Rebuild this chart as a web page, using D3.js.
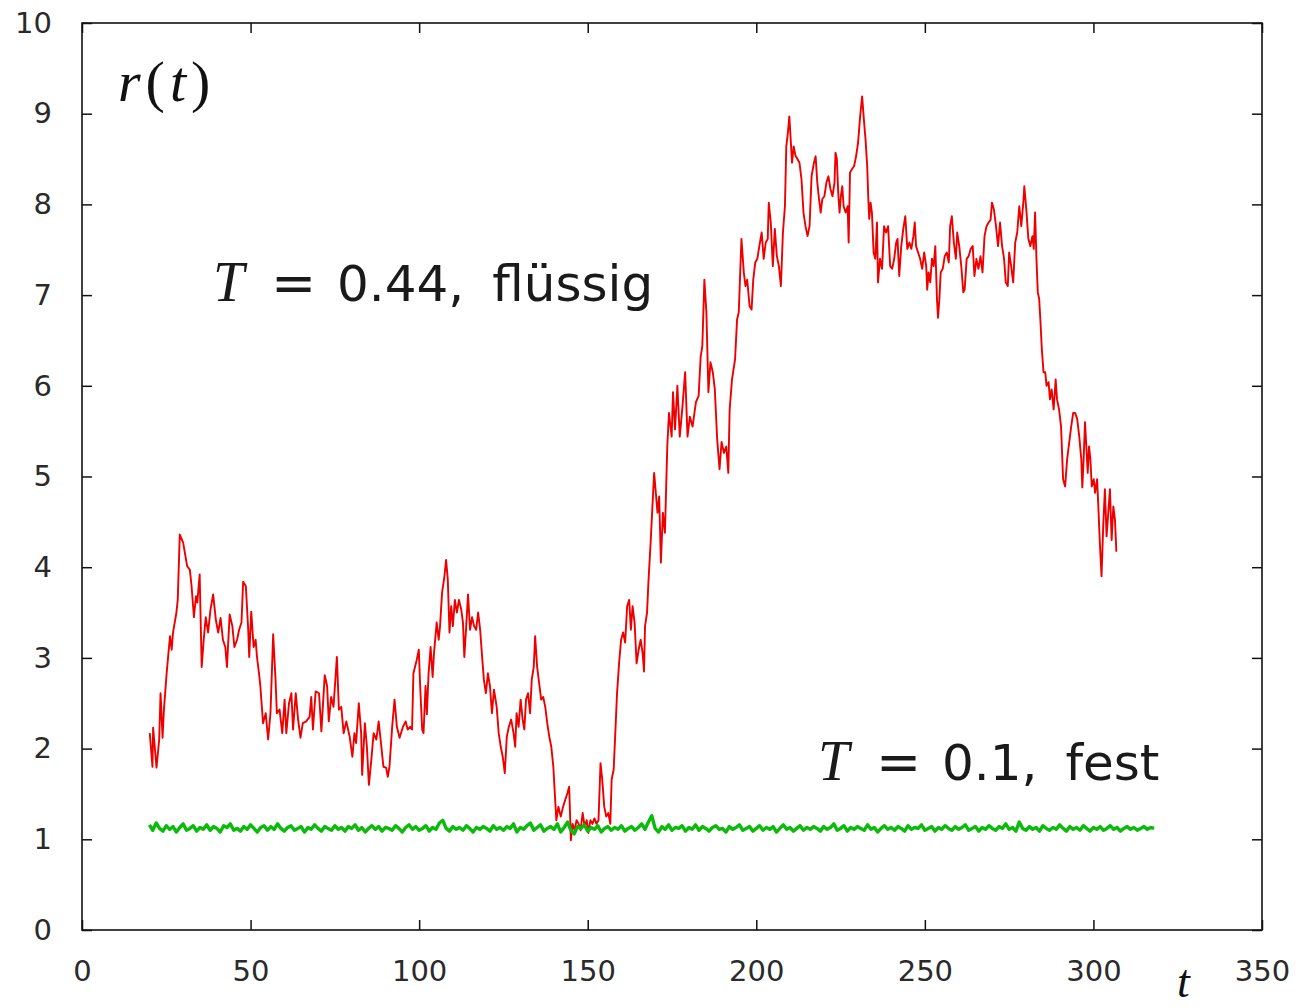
<!DOCTYPE html>
<html>
<head>
<meta charset="utf-8">
<script src="https://cdn.jsdelivr.net/npm/d3@7"></script>
<style>
  body { margin: 0; background: #fff; }
  .tick text { font-family: "DejaVu Sans", sans-serif; font-size: 29px; fill: #2a2a2a; }
</style>
</head>
<body>
<svg id="chart" width="1300" height="1008"></svg>
<script>
// ============= Data =============
const xTicks = [0, 50, 100, 150, 200, 250, 300, 350];
const yTicks = [0, 1, 2, 3, 4, 5, 6, 7, 8, 9, 10];

// r(t) at T = 0.44 (liquid) as [t, r]
const redPoints = [
  [20.1,2.17],[20.9,1.80],[21.1,2.23],[22.1,1.79],[22.9,2.10],[23.3,2.61],[23.9,2.12],[24.3,2.43],
  [25.1,2.83],[26.1,3.24],[26.6,3.09],[27.0,3.28],[28.0,3.50],[28.4,3.64],[29.0,4.36],[30.0,4.27],
  [30.5,4.16],[31.2,4.01],[32.0,3.97],[32.5,3.79],[33.2,3.45],[33.8,3.68],[34.2,3.61],[34.9,3.92],
  [35.5,2.90],[36.1,3.20],[36.7,3.45],[37.4,3.28],[38.1,3.53],[38.9,3.70],[39.7,3.42],[40.4,3.28],
  [41.1,3.44],[41.8,3.20],[42.5,3.12],[43.0,2.90],[43.8,3.48],[44.6,3.35],[45.2,3.12],[46.0,3.20],
  [46.6,3.31],[47.3,3.39],[47.8,3.84],[48.6,3.79],[49.3,3.31],[49.6,3.01],[50.2,3.51],[50.9,3.12],
  [51.5,3.20],[51.9,3.01],[52.5,2.83],[52.9,2.69],[53.7,2.28],[54.5,2.39],[55.2,2.10],[55.9,2.39],
  [56.7,3.26],[57.4,2.76],[57.8,2.39],[58.6,2.43],[59.4,2.17],[60.1,2.54],[60.6,2.17],[61.4,2.50],
  [62.1,2.61],[62.6,2.21],[63.4,2.61],[64.1,2.32],[64.8,2.12],[65.5,2.28],[66.5,2.30],[67.5,2.35],
  [68.0,2.57],[68.5,2.21],[69.3,2.63],[70.3,2.61],[71.0,2.19],[72.0,2.81],[72.7,2.69],[73.2,2.30],
  [73.9,2.57],[74.6,2.46],[75.6,3.01],[76.2,2.43],[76.9,2.46],[77.6,2.17],[78.4,2.30],[79.4,2.13],
  [80.2,1.91],[80.8,2.17],[81.3,2.06],[82.1,2.50],[82.8,2.17],[83.1,1.71],[83.9,2.28],[84.5,2.02],
  [85.1,1.60],[85.8,1.87],[86.5,2.17],[87.3,2.10],[88.0,2.30],[88.8,2.02],[89.4,1.80],[90.2,1.79],
  [90.7,1.69],[91.2,1.80],[92.0,2.24],[92.7,2.54],[93.4,2.24],[94.2,2.12],[95.2,2.24],[96.0,2.30],
  [96.6,2.21],[97.3,2.24],[97.9,2.21],[98.3,2.83],[99.3,2.98],[99.9,3.09],[100.3,2.69],[100.9,2.21],
  [101.3,2.17],[101.9,2.69],[102.3,2.38],[102.8,2.83],[103.4,3.12],[104.0,2.79],[104.4,3.05],[105.2,3.39],
  [105.8,3.20],[106.2,3.35],[106.8,3.72],[107.5,3.90],[108.0,4.08],[108.5,3.86],[109.0,3.28],[109.5,3.57],
  [110.0,3.35],[110.6,3.64],[111.2,3.50],[111.8,3.64],[112.5,3.53],[113.0,3.39],[113.4,3.01],[113.9,3.31],
  [114.5,3.70],[115.1,3.31],[115.7,3.45],[116.3,3.35],[116.9,3.31],[117.5,3.50],[118.1,3.31],[118.6,3.05],
  [119.2,2.76],[119.8,2.61],[120.4,2.83],[121.0,2.69],[121.6,2.39],[122.2,2.65],[123.0,2.46],[123.6,2.17],
  [124.2,2.02],[124.8,1.91],[125.4,1.73],[126.0,2.13],[126.6,2.24],[127.3,2.32],[128.0,2.17],[128.5,2.02],
  [128.9,2.39],[129.5,2.24],[130.1,2.54],[130.7,2.32],[131.2,2.21],[131.7,2.54],[132.3,2.61],[132.9,2.39],
  [133.4,2.76],[134.0,2.90],[134.4,3.24],[135.0,2.90],[135.6,2.72],[136.2,2.54],[136.8,2.57],[137.4,2.46],
  [138.0,2.28],[138.6,2.13],[139.2,2.02],[139.8,1.80],[140.4,1.40],[140.7,1.21],[141.3,1.36],[142.0,1.25],
  [142.7,1.36],[143.3,1.43],[144.0,1.51],[144.5,1.58],[145.0,0.99],[145.5,1.17],[146.1,1.10],[146.7,1.21],
  [147.3,1.17],[147.9,1.10],[148.5,1.29],[149.1,1.14],[149.7,1.21],[150.2,1.07],[150.8,1.21],[151.4,1.17],
  [152.0,1.23],[152.6,1.17],[153.2,1.21],[153.8,1.84],[154.3,1.66],[154.9,1.36],[155.5,1.25],[156.1,1.29],
  [156.7,1.17],[157.1,1.66],[157.7,1.77],[158.1,2.10],[158.7,2.61],[159.3,2.94],[159.9,3.20],[160.5,3.28],
  [161.1,3.17],[161.7,3.57],[162.3,3.64],[162.8,3.31],[163.3,3.57],[163.9,3.39],[164.5,2.94],[165.1,3.09],
  [165.7,3.20],[166.3,3.05],[166.7,2.85],[167.0,3.35],[167.6,3.50],[168.0,3.83],[168.6,4.23],[169.7,5.04],
  [170.7,4.60],[171.2,4.78],[171.7,4.05],[172.3,4.60],[172.9,4.38],[173.6,5.33],[174.1,5.70],[174.9,5.44],
  [175.3,5.93],[175.9,5.52],[176.6,6.00],[177.3,5.44],[178.1,5.77],[178.9,6.15],[179.6,5.44],[180.3,5.66],
  [181.1,5.55],[182.1,5.82],[182.9,5.89],[183.5,6.32],[184.0,6.44],[184.6,7.17],[185.2,6.81],[185.8,5.93],
  [186.4,6.26],[187.1,6.15],[187.7,5.96],[188.4,5.41],[189.1,5.08],[189.7,5.38],[190.4,5.26],[191.1,5.33],
  [191.7,5.04],[192.1,5.74],[192.8,6.07],[193.7,6.29],[194.3,6.73],[194.8,6.81],[195.6,7.62],[196.3,7.25],
  [196.8,7.10],[197.3,7.17],[198.0,6.88],[198.6,6.84],[199.1,7.17],[199.7,7.36],[200.3,7.40],[200.9,7.54],
  [201.6,7.69],[202.2,7.40],[202.8,7.58],[203.4,7.62],[203.7,8.02],[204.3,7.80],[204.9,7.32],[205.5,7.73],
  [206.1,7.43],[206.7,7.32],[207.3,7.10],[207.9,7.69],[208.5,7.98],[208.9,8.64],[209.4,8.80],[209.8,8.97],
  [210.2,8.72],[210.6,8.46],[211.1,8.64],[211.6,8.54],[212.2,8.50],[212.8,8.46],[213.4,8.28],[214.0,7.91],
  [214.6,7.76],[215.2,7.65],[215.8,7.76],[216.4,8.31],[217.1,8.46],[217.6,8.53],[218.1,8.24],[218.6,8.06],
  [219.1,7.91],[219.6,8.06],[220.2,8.09],[220.8,8.24],[221.4,8.31],[222.0,8.17],[222.6,8.09],[223.2,8.24],
  [223.5,8.57],[223.9,8.50],[224.3,8.13],[224.7,7.91],[225.1,8.09],[225.5,8.20],[225.9,7.98],[226.5,7.91],
  [227.1,7.98],[227.4,7.58],[227.8,8.35],[228.4,8.39],[229.0,8.42],[229.6,8.53],[230.2,8.68],[230.8,8.97],
  [231.4,9.19],[231.9,8.94],[232.4,8.72],[232.9,8.42],[233.2,8.09],[233.5,7.84],[233.9,8.02],[234.3,7.91],
  [234.8,7.47],[235.3,7.40],[235.8,7.80],[236.1,7.14],[236.7,7.40],[237.3,7.29],[237.9,7.76],[238.5,7.69],
  [239.1,7.76],[239.7,7.32],[240.3,7.29],[240.9,7.40],[241.5,7.58],[241.9,7.62],[242.4,7.21],[243.0,7.54],
  [243.6,7.73],[244.2,7.87],[244.8,7.51],[245.4,7.58],[246.0,7.51],[246.6,7.65],[247.0,7.80],[247.4,7.54],
  [248.0,7.47],[248.6,7.40],[249.2,7.29],[249.8,7.47],[250.4,7.32],[250.7,7.06],[251.1,7.25],[251.6,7.14],
  [252.1,7.40],[252.6,7.32],[253.1,7.54],[253.6,6.95],[253.9,6.75],[254.3,6.95],[254.7,7.25],[255.3,7.29],
  [255.9,7.43],[256.5,7.47],[257.1,7.36],[257.5,7.76],[258.0,7.87],[258.6,7.58],[259.2,7.40],[259.6,7.69],
  [260.2,7.54],[260.8,7.32],[261.4,7.03],[261.8,7.06],[262.4,7.40],[263.0,7.43],[263.6,7.51],[264.2,7.54],
  [264.7,7.21],[265.3,7.40],[265.9,7.29],[266.5,7.43],[267.1,7.25],[267.7,7.65],[268.3,7.76],[268.9,7.80],
  [269.5,7.83],[269.9,8.02],[270.5,7.94],[271.1,7.76],[271.7,7.54],[272.3,7.80],[272.9,7.54],[273.5,7.40],
  [274.0,7.14],[274.6,7.10],[275.0,7.47],[275.6,7.32],[276.2,7.14],[276.8,7.58],[277.4,7.69],[278.0,7.98],
  [278.6,7.76],[279.2,8.02],[279.5,8.20],[280.1,7.94],[280.7,7.62],[281.3,7.54],[281.9,7.65],[282.3,7.51],
  [282.7,7.91],[283.1,7.40],[283.5,7.03],[283.9,6.96],[284.3,6.70],[284.7,6.40],[285.2,6.15],[285.7,6.15],
  [286.1,6.00],[286.7,6.04],[287.1,5.85],[287.6,5.96],[288.2,5.74],[288.8,6.07],[289.2,5.85],[289.8,5.74],
  [290.4,5.55],[291.0,4.97],[291.6,4.89],[292.2,5.19],[292.8,5.37],[293.4,5.55],[294.0,5.70],[294.6,5.70],
  [295.2,5.63],[295.8,5.44],[296.4,5.19],[296.7,4.88],[297.1,5.19],[297.5,5.60],[297.9,5.33],[298.3,5.04],
  [298.7,5.33],[299.1,5.19],[299.5,4.89],[300.1,4.97],[300.5,4.82],[301.1,4.97],[301.5,4.63],[301.9,4.27],
  [302.4,3.90],[302.9,4.45],[303.4,4.86],[303.9,4.34],[304.4,4.60],[304.9,4.86],[305.4,4.30],[305.9,4.67],
  [306.4,4.52],[306.8,4.17]
];

// r(t) at T = 0.1 (solid), one value per time unit starting at t = 20
const greenStart = 20;
const greenR = [
  1.16,1.10,1.18,1.12,1.09,1.15,1.11,1.14,1.08,1.13,1.17,1.10,1.12,1.15,1.09,1.13,1.11,1.16,1.10,1.14,
  1.12,1.08,1.15,1.13,1.17,1.10,1.12,1.09,1.14,1.11,1.16,1.12,1.08,1.13,1.15,1.10,1.14,1.11,1.17,1.12,
  1.09,1.13,1.15,1.10,1.12,1.14,1.08,1.13,1.11,1.16,1.12,1.09,1.14,1.12,1.10,1.15,1.11,1.13,1.09,1.14,
  1.12,1.16,1.10,1.13,1.08,1.12,1.15,1.11,1.14,1.09,1.13,1.12,1.10,1.15,1.12,1.08,1.13,1.16,1.11,1.14,
  1.10,1.12,1.15,1.09,1.13,1.11,1.18,1.21,1.12,1.09,1.14,1.11,1.13,1.10,1.15,1.12,1.08,1.13,1.11,1.14,
  1.12,1.09,1.15,1.11,1.13,1.10,1.14,1.12,1.17,1.08,1.13,1.11,1.15,1.18,1.10,1.13,1.16,1.09,1.12,1.14,
  1.11,1.17,1.08,1.13,1.19,1.10,1.06,1.14,1.12,1.16,1.09,1.13,1.11,1.15,1.08,1.12,1.14,1.10,1.13,1.11,
  1.15,1.09,1.12,1.14,1.10,1.13,1.17,1.11,1.19,1.26,1.12,1.08,1.14,1.11,1.16,1.10,1.13,1.12,1.15,1.09,
  1.13,1.11,1.16,1.10,1.14,1.12,1.09,1.13,1.15,1.11,1.12,1.08,1.14,1.11,1.13,1.16,1.10,1.12,1.14,1.09,
  1.12,1.15,1.10,1.13,1.11,1.14,1.08,1.12,1.16,1.11,1.13,1.09,1.12,1.15,1.10,1.13,1.11,1.14,1.12,1.09,
  1.14,1.11,1.13,1.17,1.10,1.12,1.15,1.09,1.13,1.11,1.14,1.12,1.10,1.16,1.11,1.13,1.08,1.12,1.15,1.11,
  1.13,1.10,1.14,1.12,1.09,1.15,1.11,1.13,1.12,1.16,1.10,1.12,1.14,1.09,1.13,1.11,1.15,1.12,1.10,1.14,
  1.11,1.13,1.16,1.10,1.12,1.14,1.09,1.13,1.11,1.15,1.12,1.10,1.14,1.12,1.17,1.11,1.13,1.09,1.19,1.12,
  1.10,1.14,1.11,1.13,1.09,1.15,1.12,1.10,1.13,1.11,1.16,1.12,1.09,1.14,1.11,1.13,1.10,1.15,1.12,1.09,
  1.13,1.11,1.14,1.10,1.12,1.15,1.11,1.13,1.09,1.12,1.14,1.11,1.13,1.10,1.12,1.14,1.11,1.13,1.12
];

// ============= Setup =============
const svg = d3.select('#chart');

const x = d3.scaleLinear().domain([0, 350]).range([82, 1262]);
const y = d3.scaleLinear().domain([0, 10]).range([930, 23]);

// ============= Axes =============
// Ticks point inward on all four sides, labels only bottom and left
svg.append('g')
  .attr('transform', 'translate(0,930)')
  .call(d3.axisBottom(x).tickValues(xTicks).tickSize(-10).tickPadding(30))
  .call(g => g.select('.domain').remove());

svg.append('g')
  .attr('transform', 'translate(82,0)')
  .call(d3.axisLeft(y).tickValues(yTicks).tickSize(-10).tickPadding(30))
  .call(g => g.select('.domain').remove());

svg.append('g')
  .attr('transform', 'translate(0,23)')
  .call(d3.axisTop(x).tickValues(xTicks).tickSize(-10).tickFormat(''))
  .call(g => g.select('.domain').remove());

svg.append('g')
  .attr('transform', 'translate(1262,0)')
  .call(d3.axisRight(y).tickValues(yTicks).tickSize(-10).tickFormat(''))
  .call(g => g.select('.domain').remove());

svg.selectAll('.tick line')
  .attr('stroke', '#111')
  .attr('stroke-width', 1.5);

// Frame
svg.append('rect')
  .attr('x', x(0))
  .attr('y', y(10))
  .attr('width', x(350) - x(0))
  .attr('height', y(0) - y(10))
  .attr('fill', 'none')
  .attr('stroke', '#111')
  .attr('stroke-width', 1.6);

// ============= Lines =============
const line = d3.line()
  .x(d => x(d[0]))
  .y(d => y(d[1]));

svg.append('path')
  .datum(redPoints)
  .attr('fill', 'none')
  .attr('stroke', '#ee0000')
  .attr('stroke-width', 1.9)
  .attr('stroke-linejoin', 'round')
  .attr('d', line);

const greenPoints = greenR.map((r, i) => [greenStart + i, r]);

svg.append('path')
  .datum(greenPoints)
  .attr('fill', 'none')
  .attr('stroke', '#0bbb0b')
  .attr('stroke-width', 3.4)
  .attr('stroke-linejoin', 'round')
  .attr('d', line);

// ============= Labels =============
const mathFont = '"Liberation Serif", serif';
const textFont = '"DejaVu Sans", sans-serif';

// r(t): italic letters, upright parentheses
const rt = svg.append('text')
  .attr('x', 118)
  .attr('y', 101)
  .attr('font-family', mathFont)
  .attr('font-size', 58)
  .attr('fill', '#111');
[['r', true], ['(', false], ['t', true], [')', false]].forEach(([ch, it], i) => {
  rt.append('tspan')
    .attr('dx', i ? 5 : 0)
    .attr('font-style', it ? 'italic' : 'normal')
    .text(ch);
});

/* T label: italic T, wide math "=", then value and phase name */
function tempLabel(px, py, value, phase){
  const t = svg.append('text')
    .attr('y', py)
    .attr('fill', '#1a1a1a')
    .attr('font-family', textFont)
    .attr('font-size', 50);
  t.append('tspan')
    .attr('x', px)
    .attr('font-family', mathFont)
    .attr('font-style', 'italic')
    .attr('font-size', 56)
    .text('T');
  t.append('tspan')
    .attr('x', px + 58)
    .attr('font-size', 54)
    .text('=');
  t.append('tspan')
    .attr('x', px + 124)
    .text(value);
  t.append('tspan')
    .attr('dx', 28)
    .text(phase);
}

tempLabel(213, 301, '0.44,', 'flüssig');
tempLabel(818, 780, '0.1,', 'fest');

svg.append('text')
  .attr('x', 1177)
  .attr('y', 997)
  .attr('font-family', mathFont)
  .attr('font-style', 'italic')
  .attr('font-size', 46)
  .attr('fill', '#111')
  .text('t');
</script>
</body>
</html>
